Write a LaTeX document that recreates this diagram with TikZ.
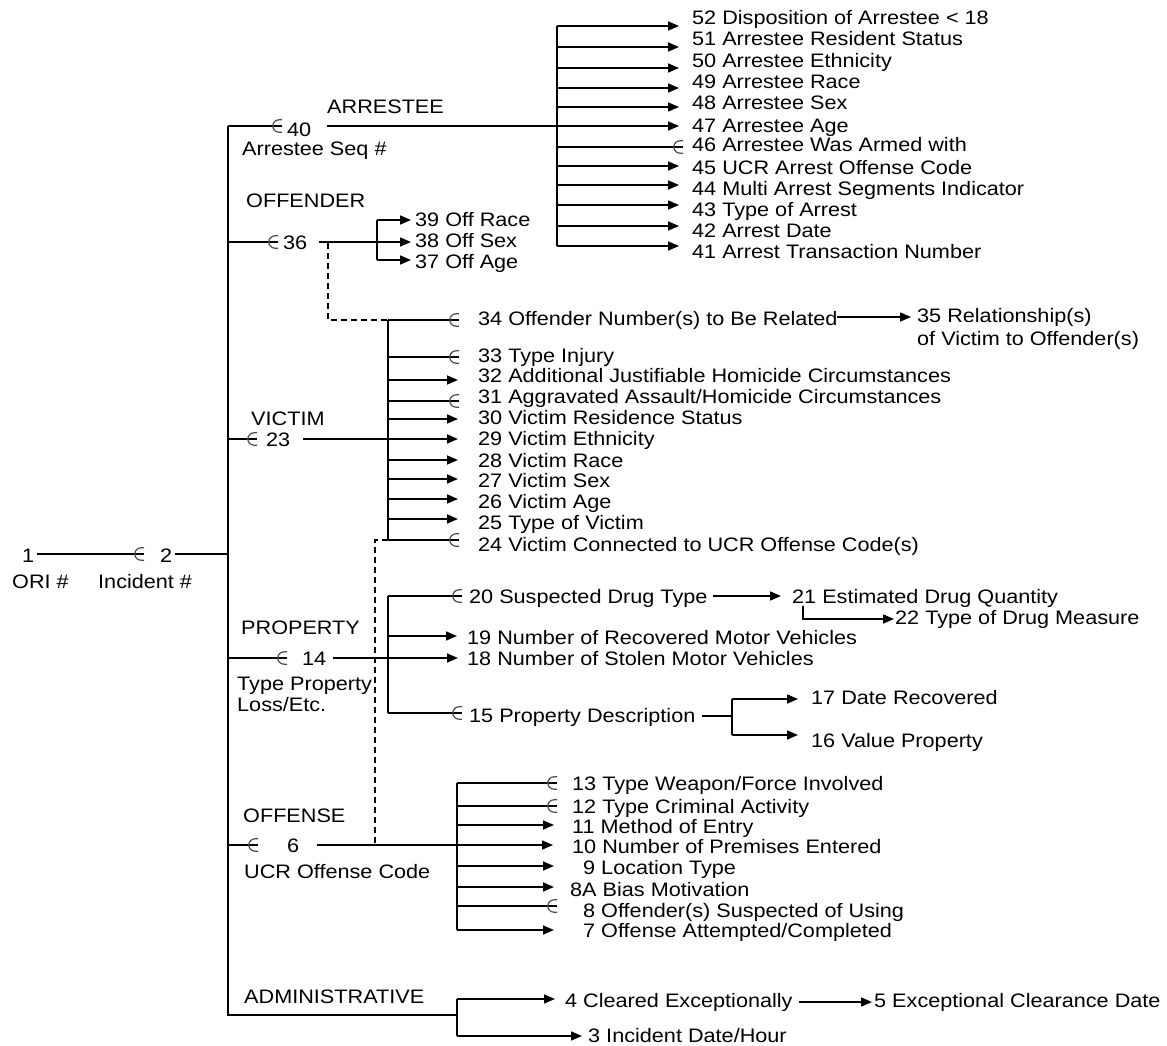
\documentclass[tikz,border=0pt]{standalone}
\usepackage{fontspec}
\setmainfont[FakeStretch=1.11]{Liberation Sans}
\usetikzlibrary{arrows.meta}
\tikzset{
  ln/.style={line width=1.6pt},
  arr/.style={line width=1.6pt,-{Triangle[length=11pt,width=9pt]}},
  dsh/.style={line width=1.6pt,dash pattern=on 6pt off 4pt},
  lbl/.style={anchor=base west,inner sep=0pt,font=\fontsize{19.5}{22}\selectfont},
  elm/.pic={\draw[line width=1.2pt,black!70] (0,-6.2) -- (-3,-6.2) arc[start angle=-90,end angle=-270,radius=6.2] -- (0,6.2);}
}
\begin{document}
\begin{tikzpicture}[x=1pt,y=-1pt]
\useasboundingbox (0,0) rectangle (1167,1046);
% spine
\coordinate (top) at (228,126);
\coordinate (bot) at (228,1015);
\draw[ln] (top) -- (bot) -- (457,1015);
% 1 - 2
\node[lbl] (n1) at (22,562) {1};
\node[lbl] (ori) at (12,588) {ORI \#};
\node[lbl] (n2) at (160,562) {2};
\node[lbl] (inc) at (98,588) {Incident \#};
\draw[ln] (37,554) -- (144,554); \pic at (144,554) {elm};
\draw[ln] (175,554) -- (228,554);
% ARRESTEE
\node[lbl] (arrH) at (327,114) {ARRESTEE};
\node[lbl] (n40) at (287,136) {40};
\node[lbl] (seq) at (242,155) {Arrestee Seq \#};
\draw[ln] (top) -- (282,126); \pic at (282,126) {elm};
\draw[ln] (327,126) -- (557,126);
\draw[ln] (557,26) -- (557,246);
\foreach \y in {26,47,68,88,107,126,166,185,205,226,246} \draw[arr] (557,\y) -- (679,\y);
\draw[ln] (557,147) -- (683,147); \pic at (683,147) {elm};
\node[lbl] (n52) at (692,25) {52 Disposition of Arrestee < 18};
\node[lbl] (n51) at (692,46) {51 Arrestee Resident Status};
\node[lbl] (n50) at (692,68) {50 Arrestee Ethnicity};
\node[lbl] (n49) at (692,89) {49 Arrestee Race};
\node[lbl] (n48) at (692,110) {48 Arrestee Sex};
\node[lbl] (n47) at (692,132) {47 Arrestee Age};
\node[lbl] (n46) at (692,152) {46 Arrestee Was Armed with};
\node[lbl] (n45) at (692,174) {45 UCR Arrest Offense Code};
\node[lbl] (n44) at (692,195) {44 Multi Arrest Segments Indicator};
\node[lbl] (n43) at (692,216) {43 Type of Arrest};
\node[lbl] (n42) at (692,237) {42 Arrest Date};
\node[lbl] (n41) at (692,258) {41 Arrest Transaction Number};
% OFFENDER
\node[lbl] (offH) at (246,207) {OFFENDER};
\node[lbl] (n36) at (283,249) {36};
\draw[ln] (228,242) -- (278,242); \pic at (278,242) {elm};
\draw[ln] (319,242) -- (377,242);
\draw[ln] (377,220) -- (377,260);
\draw[arr] (377,220) -- (411,220);
\draw[arr] (377,242) -- (411,242);
\draw[arr] (377,260) -- (411,260);
\node[lbl] (n39) at (415,226) {39 Off Race};
\node[lbl] (n38) at (415,247) {38 Off Sex};
\node[lbl] (n37) at (415,268) {37 Off Age};
\draw[dsh] (328,243) -- (328,320) -- (388,320);
% VICTIM
\node[lbl] (vicH) at (251,425) {VICTIM};
\node[lbl] (n23) at (266,446) {23};
\draw[ln] (228,439) -- (257,439); \pic at (257,439) {elm};
\draw[ln] (303,439) -- (388,439);
\draw[ln] (388,320) -- (388,540);
\foreach \y in {320,357,401,540} {\draw[ln] (388,\y) -- (459,\y); \pic at (459,\y) {elm};}
\foreach \y in {380,419,439,460,479,499,519} \draw[arr] (388,\y) -- (458,\y);
\node[lbl] (n34) at (478,325) {34 Offender Number(s) to Be Related};
\node[lbl] (n33) at (478,362) {33 Type Injury};
\node[lbl] (n32) at (478,382) {32 Additional Justifiable Homicide Circumstances};
\node[lbl] (n31) at (478,403) {31 Aggravated Assault/Homicide Circumstances};
\node[lbl] (n30) at (478,424) {30 Victim Residence Status};
\node[lbl] (n29) at (478,445) {29 Victim Ethnicity};
\node[lbl] (n28) at (478,467) {28 Victim Race};
\node[lbl] (n27) at (478,487) {27 Victim Sex};
\node[lbl] (n26) at (478,508) {26 Victim Age};
\node[lbl] (n25) at (478,529) {25 Type of Victim};
\node[lbl] (n24) at (478,551) {24 Victim Connected to UCR Offense Code(s)};
\draw[arr] (837,317) -- (911,317);
\node[lbl] (n35) at (917,322) {35 Relationship(s)};
\node[lbl] (n35b) at (917,345) {of Victim to Offender(s)};
\draw[dsh] (388,540) -- (375,540) -- (375,845);
% PROPERTY
\node[lbl] (proH) at (241,634) {PROPERTY};
\node[lbl] (n14) at (302,665) {14};
\node[lbl] (tp1) at (237,690) {Type Property};
\node[lbl] (tp2) at (237,711) {Loss/Etc.};
\draw[ln] (228,658) -- (287,658); \pic at (287,658) {elm};
\draw[arr] (333,658) -- (458,658);
\draw[ln] (388,596) -- (388,713);
\draw[ln] (388,596) -- (462,596); \pic at (462,596) {elm};
\draw[arr] (388,636) -- (457,636);
\draw[ln] (388,713) -- (462,713); \pic at (462,713) {elm};
\node[lbl] (n20) at (469,603) {20 Suspected Drug Type};
\node[lbl] (n19) at (467,644) {19 Number of Recovered Motor Vehicles};
\node[lbl] (n18) at (467,665) {18 Number of Stolen Motor Vehicles};
\node[lbl] (n15) at (469,722) {15 Property Description};
\draw[arr] (713,596) -- (781,596);
\node[lbl] (n21) at (792,603) {21 Estimated Drug Quantity};
\draw[arr] (803,606) -- (803,619) -- (894,619);
\node[lbl] (n22) at (895,624) {22 Type of Drug Measure};
\draw[ln] (702,716) -- (732,716);
\draw[ln] (732,699) -- (732,735);
\draw[arr] (732,699) -- (798,699);
\draw[arr] (732,735) -- (798,735);
\node[lbl] (n17) at (811,704) {17 Date Recovered};
\node[lbl] (n16) at (811,747) {16 Value Property};
% OFFENSE
\node[lbl] (ofsH) at (243,822) {OFFENSE};
\node[lbl] (n6) at (287,852) {6};
\node[lbl] (ucr) at (244,878) {UCR Offense Code};
\draw[ln] (228,845) -- (258,845); \pic at (258,845) {elm};
\draw[arr] (317,845) -- (553,845);
\draw[ln] (457,783) -- (457,930);
\foreach \y in {783,806,906} {\draw[ln] (457,\y) -- (557,\y); \pic at (557,\y) {elm};}
\foreach \y in {825,866,887,930} \draw[arr] (457,\y) -- (554,\y);
\node[lbl] (n13) at (572,790) {13 Type Weapon/Force Involved};
\node[lbl] (n12) at (572,813) {12 Type Criminal Activity};
\node[lbl] (n11) at (572,833) {11 Method of Entry};
\node[lbl] (n10) at (572,853) {10 Number of Premises Entered};
\node[lbl] (n9) at (583,874) {9 Location Type};
\node[lbl] (n8A) at (570,896) {8A Bias Motivation};
\node[lbl] (n8) at (583,917) {8 Offender(s) Suspected of Using};
\node[lbl] (n7) at (583,937) {7 Offense Attempted/Completed};
% ADMINISTRATIVE
\node[lbl] (admH) at (244,1003) {ADMINISTRATIVE};
\draw[ln] (457,999) -- (457,1036);
\draw[arr] (457,999) -- (555,999);
\draw[arr] (457,1036) -- (582,1036);
\node[lbl] (n4) at (565,1007) {4 Cleared Exceptionally};
\draw[arr] (799,1002) -- (872,1002);
\node[lbl] (n5) at (874,1007) {5 Exceptional Clearance Date};
\node[lbl] (n3) at (588,1042) {3 Incident Date/Hour};
\end{tikzpicture}
\end{document}
